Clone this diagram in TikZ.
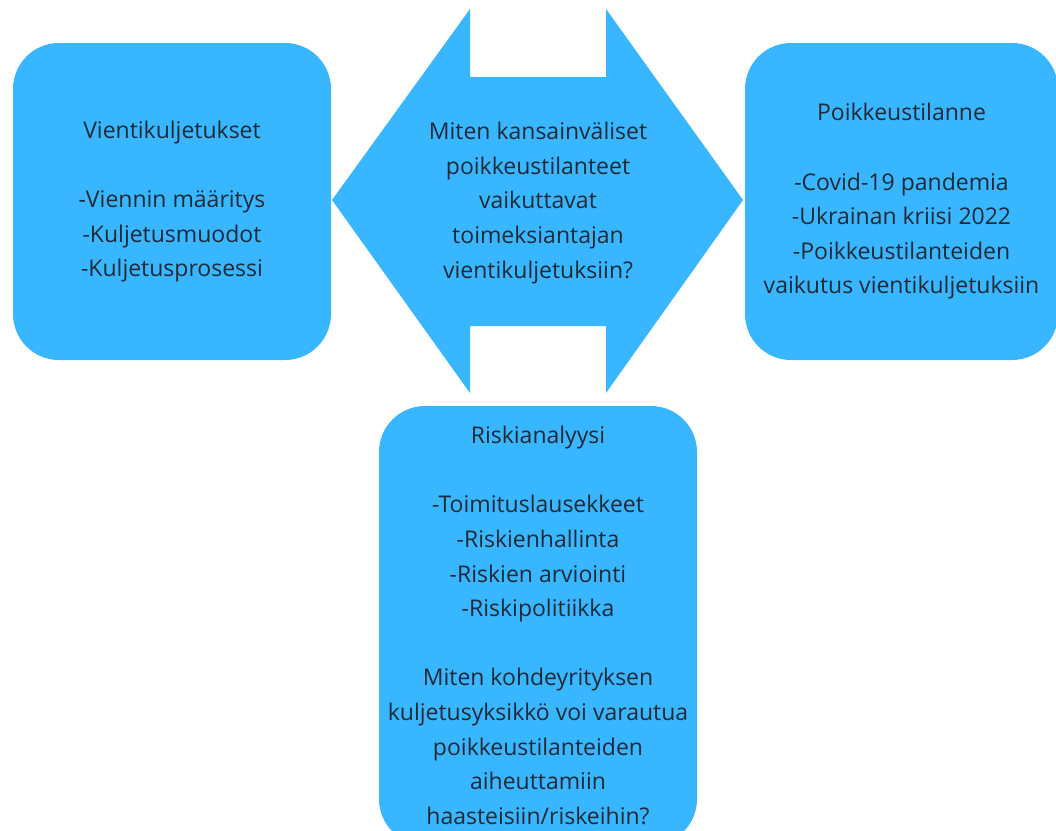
\documentclass[tikz,border=0pt]{standalone}
\usepackage{fontspec}
\setmainfont{Open Sans}
\definecolor{boxblue}{HTML}{38B6FF}
\definecolor{textdark}{HTML}{1E2A36}
\tikzset{
  topicbox/.style={fill=boxblue, rounded corners=46pt, align=center, text=textdark,
    inner sep=0pt, font=\fontsize{23}{34.6}\selectfont},
  centertext/.style={align=center, text=textdark, font=\fontsize{23}{34.6}\selectfont}
}
\begin{document}
\begin{tikzpicture}[x=1pt, y=-1pt]
\useasboundingbox (0,0) rectangle (1056,830);
\clip (0,0) rectangle (1056,830);
\fill[boxblue] (332,200) -- (470,9) -- (470,77) -- (606,77) -- (606,9) -- (743,200)
  -- (606,393) -- (606,326) -- (470,326) -- (470,393) -- cycle;
\node[centertext] (kysymys) at (538,203) {Miten kansainväliset\\poikkeustilanteet\\vaikuttavat\\toimeksiantajan\\vientikuljetuksiin?};
\node[topicbox, minimum width=318pt, minimum height=317pt] (vienti) at (172,201.5)
  {Vientikuljetukset\\[34.6pt]-Viennin määritys\\-Kuljetusmuodot\\-Kuljetusprosessi};
\node[topicbox, minimum width=313pt, minimum height=317pt] (poikkeus) at (901.5,201.5)
  {Poikkeustilanne\\[34.6pt]-Covid-19 pandemia\\-Ukrainan kriisi 2022\\-Poikkeustilanteiden\\vaikutus vientikuljetuksiin};
\node[topicbox, minimum width=318pt, minimum height=439pt] (riski) at (538,625.5)
  {Riskianalyysi\\[34.6pt]-Toimituslausekkeet\\-Riskienhallinta\\-Riskien arviointi\\-Riskipolitiikka\\[34.6pt]Miten kohdeyrityksen\\kuljetusyksikkö voi varautua\\poikkeustilanteiden\\aiheuttamiin\\haasteisiin/riskeihin?};
\end{tikzpicture}
\end{document}
